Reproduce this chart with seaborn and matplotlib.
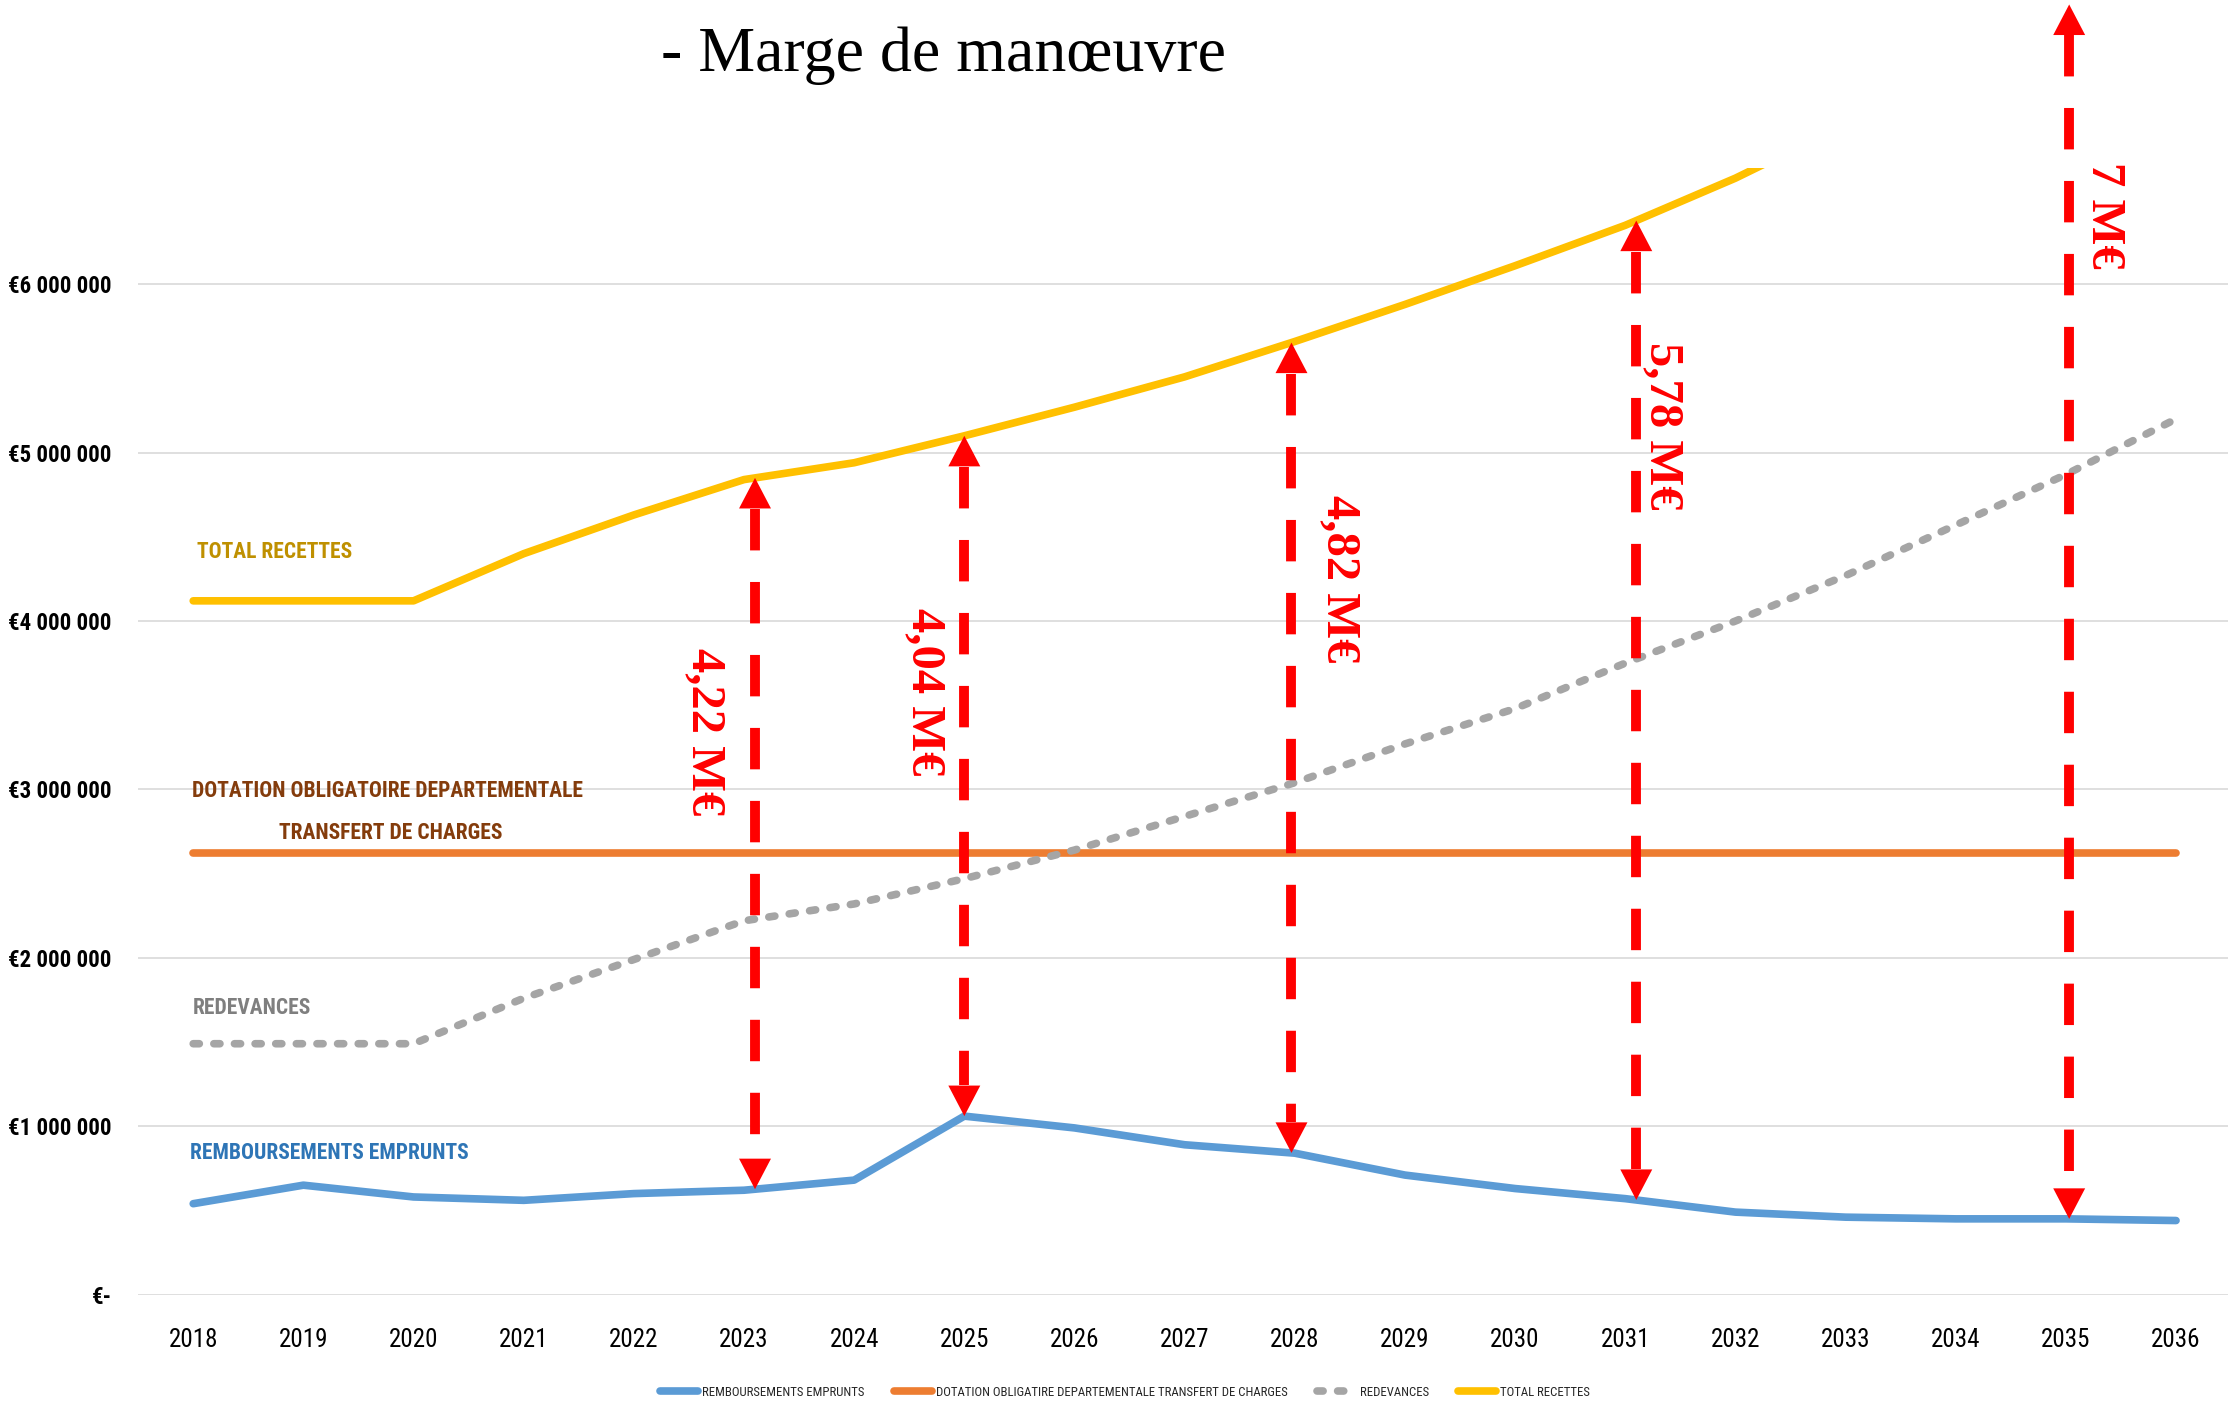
import numpy as np
import pandas as pd
import matplotlib
matplotlib.use("Agg")
import matplotlib.pyplot as plt
import seaborn as sns
from matplotlib import font_manager as fm
from matplotlib.ticker import FuncFormatter, FixedLocator

# ---------------- data ----------------
annees = list(range(2018, 2037))
remboursements = [540000, 650000, 580000, 560000, 600000, 620000, 680000, 1060000, 990000,
                  890000, 840000, 710000, 630000, 570000, 490000, 460000, 450000, 450000, 440000]
dotation = [2620000] * 19
redevances = [1490000, 1490000, 1490000, 1760000, 1990000, 2220000, 2320000, 2470000, 2640000,
              2840000, 3040000, 3270000, 3480000, 3750000, 4000000, 4270000, 4570000, 4870000, 5200000]
total_recettes = [4120000, 4120000, 4120000, 4400000, 4630000, 4840000, 4940000, 5100000, 5270000,
                  5450000, 5660000, 5880000, 6110000, 6350000, 6630000, 6950000, 7290000, 7650000, 8030000]

series_noms = ["REMBOURSEMENTS EMPRUNTS",
               "DOTATION OBLIGATIRE DEPARTEMENTALE TRANSFERT DE CHARGES",
               "REDEVANCES",
               "TOTAL RECETTES"]
series_couleurs = ["#5B9BD5", "#ED7D31", "#A5A5A5", "#FFC000"]

marge_annees = [2023, 2025, 2028, 2031, 2035]
marge_labels = ["4,22 M€", "4,04 M€", "4,82 M€", "5,78 M€", "7 M€"]

y_ticks = [0, 1000000, 2000000, 3000000, 4000000, 5000000, 6000000]
titre = "- Marge de manœuvre"

# ---------------- fonts ----------------
sns.set_theme(style="white")
names = {f.name for f in fm.fontManager.ttflist}
cond_family = None
cond_stretch = "normal"
for cand in ["Liberation Sans Narrow", "Roboto Condensed", "Open Sans Condensed"]:
    if cand in names:
        cond_family = cand
        break
scale = 1.0
if cond_family is None:
    dv_cond = [f for f in fm.fontManager.ttflist if f.name == "DejaVu Sans" and "ondensed" in str(f.stretch)]
    if dv_cond:
        cond_family = "DejaVu Sans"
        cond_stretch = "condensed"
        scale = 0.9
    else:
        cond_family = "Roboto"
        scale = 0.85
plt.rcParams["font.family"] = [cond_family, "DejaVu Sans"]
serif = ["Liberation Serif", "DejaVu Serif"]

# ---------------- figure ----------------
fig = plt.figure(figsize=(22.28, 14.04), dpi=100)
ax = fig.add_axes([0.062, 0.0779, 0.9394, 0.8024])

df = pd.DataFrame({
    "annee": annees * 4,
    "valeur": remboursements + dotation + redevances + total_recettes,
    "serie": sum([[n] * len(annees) for n in series_noms], []),
})
palette = dict(zip(series_noms, series_couleurs))
dashes = {n: "" for n in series_noms}
dashes["REDEVANCES"] = (0.8, 1.9)
sns.lineplot(data=df, x="annee", y="valeur", hue="serie", style="serie",
             hue_order=series_noms, style_order=series_noms, palette=palette,
             dashes=dashes, linewidth=5.5, estimator=None, legend=False, ax=ax)
for ln in ax.lines:
    ln.set_solid_capstyle("round")
    ln.set_dash_capstyle("round")
    ln.set_solid_joinstyle("round")
    ln.set_dash_joinstyle("round")

ymax = 6.69e6
ax.set_xlim(2017.5, 2036.5)
ax.set_ylim(0, ymax)
for s in ax.spines.values():
    s.set_visible(False)
ax.yaxis.set_major_locator(FixedLocator(y_ticks))
ax.yaxis.grid(True, color="#D9D9D9", linewidth=1.2)
ax.xaxis.grid(False)
ax.set_axisbelow(True)
ax.set_xticks(annees)
ax.set_xticklabels([str(a) for a in annees])


def fmt_euro(v, pos):
    if v == 0:
        return "€-"
    return "€" + f"{int(round(v)):,}".replace(",", " ")


ax.yaxis.set_major_formatter(FuncFormatter(fmt_euro))
ax.tick_params(axis="x", length=0, pad=24, labelsize=18 * scale, labelcolor="black")
ax.tick_params(axis="y", length=0, pad=19, labelsize=16.5 * scale, labelcolor="black")
for t in ax.get_yticklabels():
    t.set_fontweight("bold")
    t.set_fontstretch(cond_stretch)
for t in ax.get_xticklabels():
    t.set_fontstretch(cond_stretch)
ax.set_xlabel("")
ax.set_ylabel("")

# ---------------- series labels ----------------
lab_kw = dict(fontsize=15.5 * scale, fontweight="bold", fontstretch=cond_stretch, va="center")
ax.text(2018.03, 4.41e6, "TOTAL RECETTES", color="#BF9000", ha="left", **lab_kw)
ax.text(2017.99, 2.99e6, "DOTATION OBLIGATOIRE DEPARTEMENTALE", color="#843C0C", ha="left", **lab_kw)
ax.text(2019.79, 2.74e6, "TRANSFERT DE CHARGES", color="#843C0C", ha="center", **lab_kw)
ax.text(2018.0, 1.70e6, "REDEVANCES", color="#7F7F7F", ha="left", **lab_kw)
ax.text(2017.97, 0.84e6, "REMBOURSEMENTS EMPRUNTS", color="#2E75B6", ha="left", **lab_kw)

# ---------------- marge arrows ----------------
ax_h_px = 0.8024 * 14.04 * 100
head_len_px = 31
head_data = head_len_px * ymax / ax_h_px
arrow_dx = [0.1, 0.0, -0.03, 0.1, 0.03]
label_dx = [-0.36, -0.36, 0.41, 0.34, 0.35]
label_y = [3.34e6, 3.58e6, 4.25e6, 5.16e6, 6.41e6]
for i, an in enumerate(marge_annees):
    x = an + arrow_dx[i]
    bas = np.interp(x, annees, remboursements)
    haut = np.interp(x, annees, total_recettes)
    ax.plot([x, x], [haut - head_data, bas + head_data], color="#FF0000", lw=7.1,
            dashes=(4.2, 3.2), solid_capstyle="butt", dash_capstyle="butt",
            clip_on=False, zorder=6)
    for tip, sgn in [(haut, -1), (bas, 1)]:
        ax.annotate("", xy=(x, tip), xytext=(x, tip + sgn * head_data),
                    arrowprops=dict(arrowstyle="-|>,head_length=22,head_width=11.5",
                                    mutation_scale=1, fc="#FF0000", ec="#FF0000", lw=0,
                                    shrinkA=0, shrinkB=0),
                    annotation_clip=False, zorder=7)
    ax.text(an + label_dx[i], label_y[i], marge_labels[i], rotation=-90, color="#FF0000",
            fontsize=35, fontweight="bold", family=serif, ha="center", va="center",
            clip_on=False, zorder=8)

# ---------------- title ----------------
fig.text(0.2967, 0.9494, titre, family=serif, fontsize=46, color="black",
         ha="left", va="baseline")

# ---------------- legend ----------------
handles = ax.lines[:4]
leg = fig.legend(handles, series_noms, loc="center", bbox_to_anchor=(0.505, 0.0085), ncol=4,
                 frameon=False, fontsize=9.2 * scale, handlelength=3.0, handletextpad=0.3,
                 columnspacing=2.3)
for t in leg.get_texts():
    t.set_fontstretch(cond_stretch)

fig.savefig("out.png", dpi=100)
